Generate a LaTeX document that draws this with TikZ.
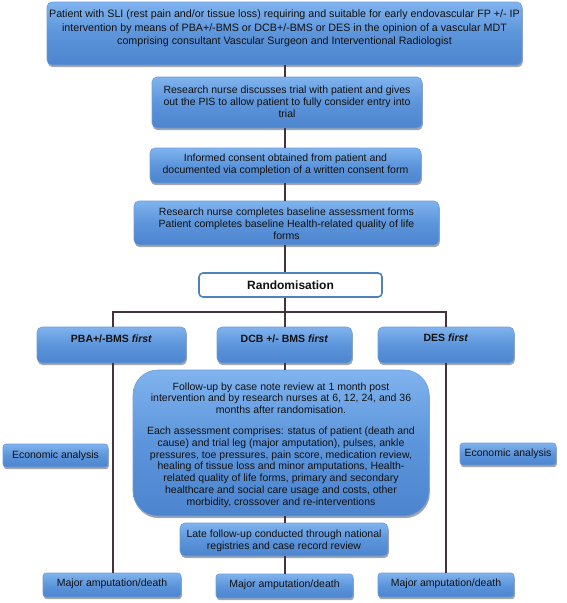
\documentclass[tikz,border=0pt]{standalone}
\usepackage{fontspec}
\setmainfont{Liberation Sans}
\usetikzlibrary{shadows}
\definecolor{bluetop}{HTML}{80B3EE}
\definecolor{bluemid}{HTML}{5C95DB}
\definecolor{bluebot}{HTML}{4C84CE}
\definecolor{boxedge}{HTML}{6A9EDD}
\definecolor{linecol}{HTML}{45323F}
\definecolor{randedge}{HTML}{4F81BD}
\definecolor{txtcol}{HTML}{111111}
\newcommand\boxfont{\fontsize{10.5}{11.8}\selectfont}
\newcommand\topfont{\fontsize{10.7}{13.3}\selectfont}
\tikzset{
 bx/.style={draw=boxedge, line width=0.6pt, top color=bluetop, bottom color=bluebot, middle color=bluemid,
   rounded corners=5pt, inner sep=0pt,
   drop shadow={shadow xshift=0.8pt, shadow yshift=-2.2pt, opacity=0.35, fill=black}},
 txt/.style={align=center, font=\boxfont, text=txtcol, inner sep=0pt},
 btxt/.style={align=center, font=\boxfont\bfseries, text=txtcol, inner sep=0pt},
 conn/.style={draw=linecol, line width=1.1pt},
 randbox/.style={draw=randedge, line width=1.6pt, fill=white, rounded corners=4pt, inner sep=0pt}
}
\begin{document}
\begin{tikzpicture}[x=1pt,y=-1pt]
\useasboundingbox (0,0) rectangle (567,603);
\coordinate (cx) at (285,0);
\coordinate (hl) at (113,312);
\coordinate (hr) at (446,312);

% boxes
\node[bx, minimum width=475pt, minimum height=63pt] (b1) at (284.5,33.5) {};
\node[bx, minimum width=270pt, minimum height=51pt] (b2) at (287,102.5) {};
\node[bx, minimum width=271pt, minimum height=35pt] (b3) at (285.5,165.5) {};
\node[bx, minimum width=305pt, minimum height=44pt] (b4) at (286.5,223) {};
\node[randbox, minimum width=183pt, minimum height=24pt, font=\fontsize{12}{14}\selectfont\bfseries, text=txtcol] (rand) at (290.5,285) {Randomisation};
\node[bx, minimum width=149pt, minimum height=36pt] (pba) at (111.5,345) {};
\node[bx, minimum width=135pt, minimum height=36pt] (dcb) at (284.5,345) {};
\node[bx, minimum width=136pt, minimum height=36pt] (des) at (446,345) {};
\node[bx, minimum width=296pt, minimum height=146pt, rounded corners=25pt] (fu) at (281,443) {};
\node[bx, minimum width=208pt, minimum height=33pt] (late) at (284,539.5) {};
\node[bx, minimum width=138pt, minimum height=24pt, rounded corners=3pt] (majl) at (112,585) {};
\node[bx, minimum width=137pt, minimum height=24pt, rounded corners=3pt] (majc) at (284.5,586) {};
\node[bx, minimum width=136pt, minimum height=24pt, rounded corners=3pt] (majr) at (446,585) {};
\node[bx, minimum width=105pt, minimum height=23pt, rounded corners=3pt] (ecol) at (55.5,455.5) {};
\node[bx, minimum width=96pt, minimum height=22pt, rounded corners=3pt] (ecor) at (508,454) {};

% texts
\node[txt, font=\topfont] (t1) at (284.5,28.3) {Patient with SLI (rest pain and/or tissue loss) requiring and suitable for early endovascular FP +/- IP\\intervention by means of PBA+/-BMS or DCB+/-BMS or DES in the opinion of a vascular MDT\\comprising consultant Vascular Surgeon and Interventional Radiologist};
\node[txt] (t2) at (287,101.7) {Research nurse discusses trial with patient and gives\\out the PIS to allow patient to fully consider entry into\\trial};
\node[txt] (t3) at (285.5,164.5) {Informed consent obtained from patient and\\documented via completion of a written consent form};
\node[txt] (t4) at (286.5,224) {Research nurse completes baseline assessment forms\\Patient completes baseline Health-related quality of life\\forms};
\node[btxt] (tp) at (111.5,339) {PBA+/-BMS \textit{first}};
\node[btxt] (td) at (284.5,339) {DCB +/- BMS \textit{first}};
\node[btxt] (te) at (446,338) {DES \textit{first}};
\node[txt] (tf) at (281,445) {Follow-up by case note review at 1 month post\\intervention and by research nurses at 6, 12, 24, and 36\\months after randomisation.\\[9pt]Each assessment comprises: status of patient (death and\\cause) and trial leg (major amputation), pulses, ankle\\pressures, toe pressures, pain score, medication review,\\healing of tissue loss and minor amputations, Health-\\related quality of life forms, primary and secondary\\healthcare and social care usage and costs, other\\morbidity, crossover and re-interventions};
\node[txt] (tl) at (284,540.5) {Late follow-up conducted through national\\registries and case record review};
\node[txt] (tml) at (112,584) {Major amputation/death};
\node[txt] (tmc) at (284.5,585) {Major amputation/death};
\node[txt] (tmr) at (446,584) {Major amputation/death};
\node[txt] (tel) at (55.5,456) {Economic analysis};
\node[txt] (ter) at (508,454) {Economic analysis};

% connectors
\draw[conn] (b1.south -| cx) -- (b2.north -| cx);
\draw[conn] (b2.south -| cx) -- (b3.north -| cx);
\draw[conn] (b3.south -| cx) -- (b4.north -| cx);
\draw[conn] (b4.south -| cx) -- (rand.north -| cx);
\draw[conn] (rand.south -| cx) -- (dcb.north -| cx);
\draw[conn] (pba.north -| hl) -- (hl) -- (hr) -- (des.north -| hr);
\draw[conn] (dcb.south -| cx) -- (fu.north -| cx);
\draw[conn] (fu.south -| cx) -- (late.north -| cx);
\draw[conn] (late.south -| cx) -- (majc.north -| cx);
\draw[conn] (pba.south -| hl) -- (majl.north -| hl);
\draw[conn] (des.south -| hr) -- (majr.north -| hr);
\end{tikzpicture}
\end{document}
